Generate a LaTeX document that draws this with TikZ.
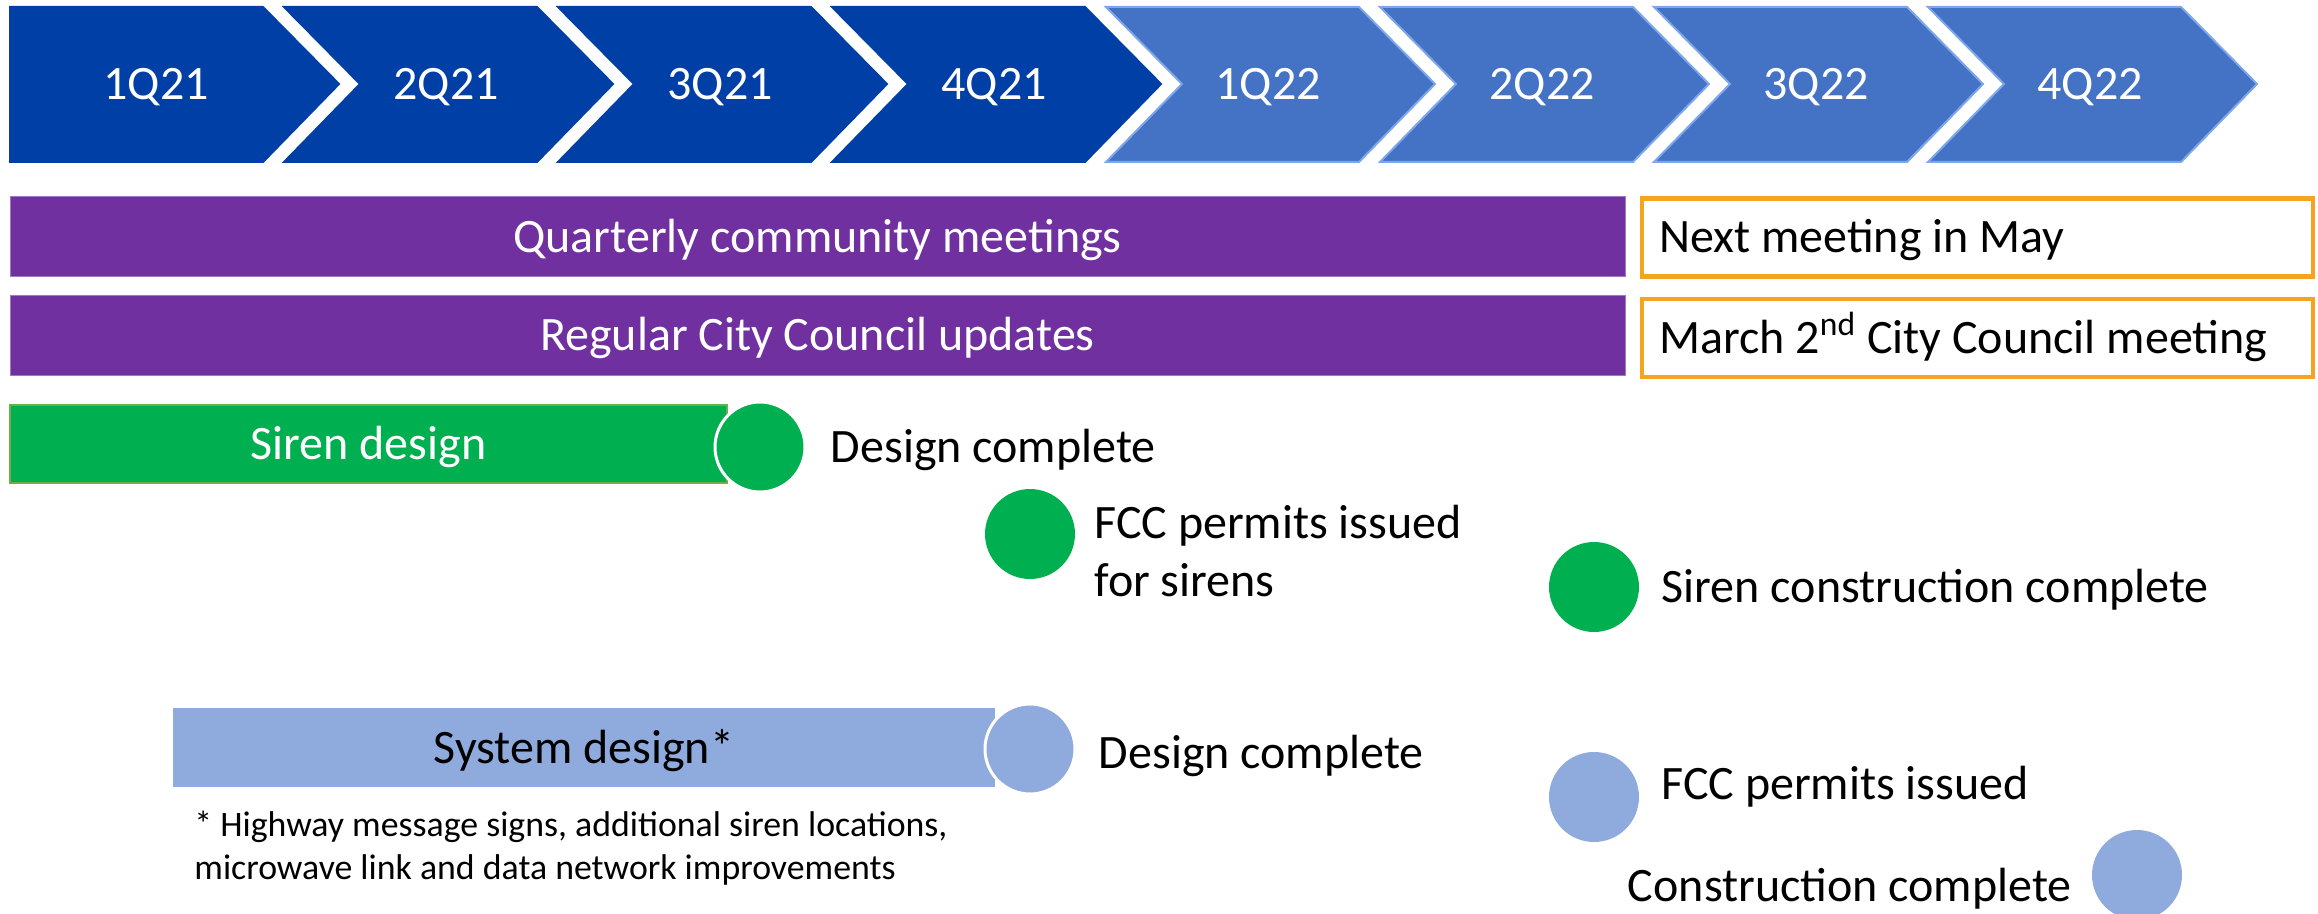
\documentclass[tikz,border=0pt]{standalone}
\usepackage{fontspec}
\setmainfont{Carlito}
\usetikzlibrary{positioning}
\definecolor{qdark}{RGB}{0,63,165}
\definecolor{qlight}{RGB}{68,114,196}
\definecolor{qedge}{RGB}{125,166,235}
\definecolor{mpurple}{RGB}{112,48,160}
\definecolor{mpurpleedge}{RGB}{160,120,200}
\definecolor{morange}{RGB}{245,164,33}
\definecolor{sgreen}{RGB}{0,176,80}
\definecolor{sgreenedge}{RGB}{112,173,71}
\definecolor{sblue}{RGB}{143,170,220}
\begin{document}
\begin{tikzpicture}[x=0.5pt,y=-0.5pt,line join=miter,
	txt/.style={font=\fontsize{24}{29}\selectfont,inner sep=0pt},
	onecap/.style={txt,text height=15.5pt,text depth=0pt},
	bar/.style={onecap,minimum height=40pt},
	mbox/.style={draw=morange,line width=2.25pt,minimum width=335.5pt,minimum height=39pt,inner sep=0pt},
	dot/.style={circle,minimum size=45pt,inner sep=0pt}]
	\path[use as bounding box,fill=white] (0,0) rectangle (2318,914);
	% quarters
	\foreach \lab [count=\i from 0] in {1Q21,2Q21,3Q21,4Q21,1Q22,2Q22,3Q22,4Q22}{
		\pgfmathsetmacro\L{10+274*\i}
		\pgfmathsetmacro\N{ifthenelse(\i==0,0,76)}
		\pgfmathsetmacro\tx{\L+ifthenelse(\i==0,146,162)}
		\ifnum\i<4 \def\cf{qdark}\def\ce{qdark}\else\def\cf{qlight}\def\ce{qedge}\fi
		\draw[fill=\cf,draw=\ce,line width=1pt] (\L,7)--++(253,0)--++(76,77)--++(-76,78)--++(-253,0)--++(\N,-78)--cycle;
		\node[onecap,text=white] (q\i) at (\tx,84) {\lab};
	}
	% meetings
	\node[bar,fill=mpurple,draw=mpurpleedge,line width=0.5pt,minimum width=807.5pt,text=white] (meet) at (817.5,237) {Quarterly community meetings};
	\node[bar,fill=mpurple,draw=mpurpleedge,line width=0.5pt,minimum width=807.5pt,text=white] (council) at (817.5,335.5) {Regular City Council updates};
	\node[mbox] (nextbox) at (1977.5,237.5) {};
	\node[onecap,anchor=west] (next) at ([xshift=9.5pt]nextbox.west) {Next meeting in May};
	\node[mbox] (marchbox) at (1977.5,338) {};
	\node[onecap,anchor=west] (march) at ([xshift=9.5pt]marchbox.west) {March 2\textsuperscript{nd} City Council meeting};
	% sirens
	\node[bar,fill=sgreen,draw=sgreenedge,line width=0.75pt,minimum width=358.5pt,minimum height=39pt,text=white] (sdesign) at (368.5,444) {Siren design};
	\node[dot,fill=sgreen,draw=white,line width=1.5pt] (sdone) at (760,447) {};
	\node[onecap,right=12pt of sdone] (sdonetxt) {Design complete};
	\node[dot,fill=sgreen] (fcc) at (1030,534) {};
	\node[txt,align=left,anchor=north west] (fcctxt) at (1094,505) {FCC permits issued\\for sirens};
	\node[dot,fill=sgreen] (sbuilt) at (1594,587) {};
	\node[onecap,right=11pt of sbuilt] (sbuilttxt) {Siren construction complete};
	% system
	\node[bar,fill=sblue,minimum width=411pt,minimum height=39.5pt] (sysdesign) at (584,747.5) {System design*};
	\node[dot,fill=sblue,draw=white,line width=1.5pt] (sysdone) at (1030,749) {};
	\node[onecap,right=11pt of sysdone,yshift=-2pt] (sysdonetxt) {Design complete};
	\node[txt,font=\fontsize{17.9}{21.5}\selectfont,align=left,anchor=north west] (note) at (194,811) {* Highway message signs, additional siren locations,\\microwave link and data network improvements};
	\node[dot,fill=sblue] (permit) at (1594,797) {};
	\node[onecap,anchor=west] (permittxt) at (1661,784) {FCC permits issued};
	\node[dot,fill=sblue] (built) at (2137,875) {};
	\node[onecap,anchor=east] (builttxt) at (2072,885.5) {Construction complete};
\end{tikzpicture}
\end{document}
